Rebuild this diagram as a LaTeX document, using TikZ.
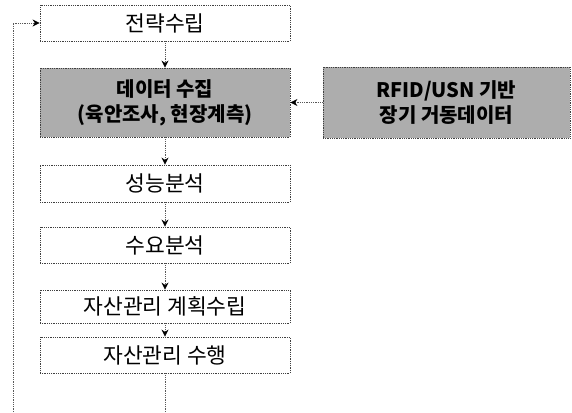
\documentclass[tikz,border=0pt]{standalone}
\usepackage{fontspec}
\setmainfont{Noto Sans CJK KR}
\usetikzlibrary{arrows.meta}
\begin{document}
\begin{tikzpicture}[x=1pt,y=-1pt,
  box/.style={draw=black!75, densely dotted, line width=0.8pt, minimum width=250pt, inner sep=0pt, font=\fontsize{21.5}{24}\selectfont, text=black},
  graybox/.style={box, fill=black!32, font=\bfseries\fontsize{20}{25}\selectfont, align=center},
  conn/.style={draw=black!65, densely dotted, line width=0.8pt, -{Stealth[length=7pt,width=7pt,black]}},
  plain/.style={draw=black!65, densely dotted, line width=0.8pt}]
\useasboundingbox (0,0) rectangle (572,412);
\node[box, minimum height=36pt] (b1) at (165,23) {전략수립};
\node[graybox, minimum height=69pt] (b2) at (165,102.5) {데이터 수집\\(육안조사, 현장계측)};
\node[box, minimum height=37pt] (b3) at (165,183.5) {성능분석};
\node[box, minimum height=36pt] (b4) at (165,245) {수요분석};
\node[box, minimum height=33pt] (b5) at (165,306.5) {자산관리 계획수립};
\node[box, minimum height=36pt] (b6) at (165,355) {자산관리 수행};
\node[graybox, minimum width=247pt, minimum height=71pt] (r) at (446.5,102.5) {RFID/USN 기반\\장기 거동데이터};
\coordinate (lb) at (13,412);
\coordinate (bb) at (165,412);
\draw[conn] (b1) -- (b2);
\draw[conn] (b2) -- (b3);
\draw[conn] (b3) -- (b4);
\draw[conn] (b4) -- (b5);
\draw[conn] (b5) -- (b6);
\draw[conn] (r) -- (b2);
\draw[plain] (b6) -- (bb);
\draw[conn] (lb) |- (b1.west);
\end{tikzpicture}
\end{document}
